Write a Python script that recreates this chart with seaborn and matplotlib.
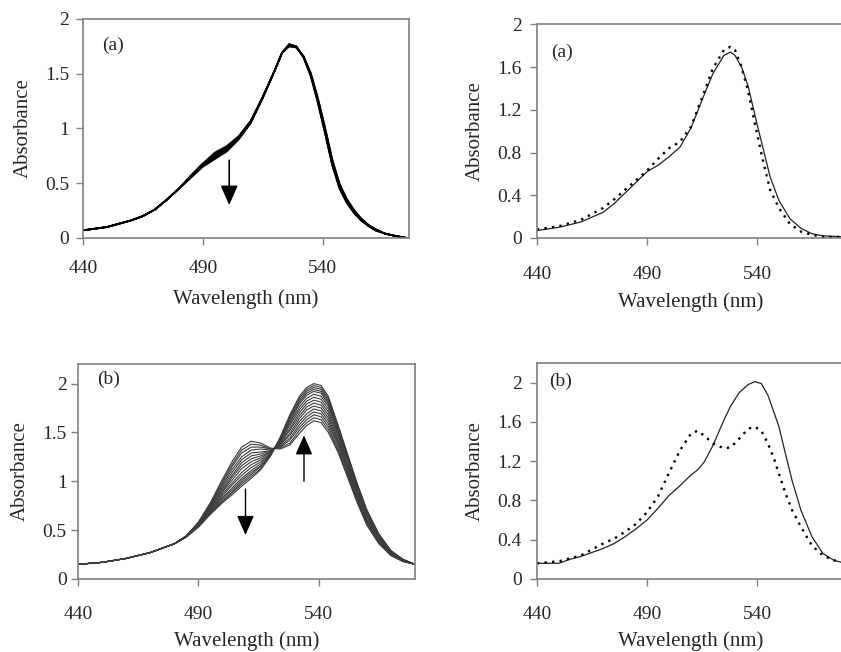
import numpy as np
import pandas as pd
import matplotlib
matplotlib.use('Agg')
import matplotlib.pyplot as plt
import seaborn as sns

# --- panel (a), left: family of spectra ---
wl_a = [440, 450, 460, 465, 470, 475, 480, 485, 490, 495, 500, 505, 510, 515, 520, 523,
        526, 529, 532, 535, 538, 541, 544, 547, 550, 553, 556, 559, 562, 566, 570, 575]
a_curves = [
    [.07, .10, .16, .20, .26, .35, .45, .57, .68, .78, .84, .93, 1.07, 1.29, 1.53, 1.69,
     1.77, 1.75, 1.65, 1.48, 1.23, .95, .66, .45, .32, .23, .16, .11, .07, .04, .02, .00],
    [.07, .10, .16, .20, .26, .35, .45, .57, .68, .77, .83, .93, 1.07, 1.29, 1.53, 1.69,
     1.77, 1.75, 1.65, 1.48, 1.24, .96, .67, .46, .33, .23, .16, .11, .07, .04, .02, .00],
    [.07, .10, .16, .20, .26, .35, .45, .56, .67, .76, .82, .92, 1.06, 1.29, 1.53, 1.69,
     1.76, 1.75, 1.65, 1.49, 1.25, .97, .68, .47, .33, .24, .17, .11, .07, .04, .02, .00],
    [.07, .10, .16, .20, .26, .35, .45, .56, .67, .75, .81, .92, 1.06, 1.28, 1.53, 1.69,
     1.76, 1.74, 1.65, 1.49, 1.26, .98, .69, .48, .34, .24, .17, .12, .07, .04, .02, .00],
    [.07, .10, .16, .20, .26, .35, .45, .56, .66, .74, .81, .91, 1.06, 1.28, 1.53, 1.69,
     1.76, 1.74, 1.66, 1.50, 1.26, .99, .70, .48, .35, .25, .17, .12, .08, .04, .02, .00],
    [.07, .10, .16, .20, .26, .35, .45, .55, .66, .73, .80, .91, 1.05, 1.28, 1.53, 1.69,
     1.75, 1.74, 1.66, 1.50, 1.27, 1.00, .71, .49, .35, .25, .18, .12, .08, .04, .02, .00],
    [.07, .10, .16, .20, .26, .35, .45, .55, .65, .72, .79, .90, 1.05, 1.28, 1.53, 1.69,
     1.75, 1.74, 1.66, 1.51, 1.28, 1.01, .72, .50, .36, .26, .18, .12, .08, .04, .02, .00],
]

# --- panel (a), right: solid vs dotted ---
wl_ra = [440, 450, 460, 470, 475, 480, 485, 490, 495, 500, 505, 510, 515, 520, 525, 528,
         530, 533, 536, 540, 543, 546, 550, 555, 560, 565, 570, 580]
ra_solid = [.07, .10, .15, .24, .32, .42, .52, .62, .68, .76, .85, 1.03, 1.29, 1.54, 1.71, 1.74,
            1.71, 1.60, 1.42, 1.07, .82, .57, .35, .18, .09, .04, .02, .01]
ra_dotted = [.08, .11, .17, .28, .36, .45, .54, .63, .74, .84, .90, 1.04, 1.31, 1.59, 1.76, 1.79,
             1.76, 1.60, 1.37, .98, .70, .45, .28, .13, .06, .03, .01, .01]

# --- panel (b), left: family of spectra ---
wl_b = [440, 450, 460, 470, 480, 485, 490, 495, 500, 504, 508, 512, 516, 520, 524, 528,
        532, 535, 538, 541, 544, 548, 552, 556, 560, 565, 570, 575, 580]
b_curves = [
    [.15, .17, .21, .27, .36, .44, .58, .78, 1.02, 1.20, 1.35, 1.41, 1.39, 1.34, 1.33, 1.37,
     1.49, 1.57, 1.62, 1.60, 1.50, 1.30, 1.04, .78, .55, .36, .24, .18, .15],
    [.15, .17, .21, .27, .36, .44, .58, .77, 1.00, 1.17, 1.32, 1.38, 1.37, 1.33, 1.34, 1.39,
     1.52, 1.60, 1.65, 1.63, 1.53, 1.32, 1.06, .80, .56, .37, .24, .18, .15],
    [.15, .17, .21, .27, .36, .44, .57, .76, .98, 1.15, 1.29, 1.35, 1.35, 1.33, 1.35, 1.42,
     1.55, 1.63, 1.68, 1.66, 1.56, 1.34, 1.08, .81, .58, .38, .25, .18, .15],
    [.15, .17, .21, .27, .36, .44, .57, .75, .96, 1.12, 1.25, 1.32, 1.33, 1.32, 1.36, 1.44,
     1.58, 1.66, 1.71, 1.69, 1.59, 1.37, 1.10, .83, .59, .38, .25, .18, .15],
    [.15, .17, .21, .27, .36, .44, .56, .74, .94, 1.09, 1.22, 1.29, 1.30, 1.31, 1.37, 1.47,
     1.61, 1.69, 1.74, 1.72, 1.62, 1.39, 1.12, .84, .60, .39, .26, .19, .15],
    [.15, .17, .21, .27, .36, .44, .56, .73, .92, 1.06, 1.19, 1.26, 1.28, 1.31, 1.38, 1.49,
     1.64, 1.73, 1.77, 1.75, 1.65, 1.41, 1.14, .86, .61, .40, .26, .19, .15],
    [.15, .17, .21, .27, .36, .44, .56, .72, .90, 1.04, 1.16, 1.23, 1.26, 1.30, 1.39, 1.52,
     1.67, 1.76, 1.80, 1.78, 1.68, 1.43, 1.16, .88, .63, .41, .26, .19, .15],
    [.15, .17, .21, .27, .36, .43, .55, .71, .89, 1.01, 1.13, 1.20, 1.24, 1.30, 1.40, 1.54,
     1.70, 1.79, 1.83, 1.81, 1.71, 1.46, 1.17, .89, .64, .42, .27, .19, .15],
    [.15, .17, .21, .27, .36, .43, .55, .70, .87, .98, 1.09, 1.17, 1.22, 1.29, 1.41, 1.57,
     1.73, 1.82, 1.86, 1.84, 1.74, 1.48, 1.19, .91, .65, .42, .27, .19, .15],
    [.15, .17, .21, .27, .36, .43, .54, .69, .85, .96, 1.06, 1.14, 1.20, 1.28, 1.42, 1.59,
     1.76, 1.85, 1.89, 1.87, 1.77, 1.50, 1.21, .92, .67, .43, .28, .19, .15],
    [.15, .17, .21, .27, .36, .43, .54, .69, .83, .93, 1.03, 1.11, 1.18, 1.28, 1.42, 1.61,
     1.79, 1.88, 1.92, 1.90, 1.79, 1.52, 1.23, .94, .68, .44, .28, .20, .15],
    [.15, .17, .21, .27, .36, .43, .54, .68, .82, .91, 1.01, 1.09, 1.16, 1.27, 1.43, 1.63,
     1.81, 1.90, 1.94, 1.92, 1.81, 1.54, 1.24, .95, .69, .45, .28, .20, .15],
    [.15, .17, .21, .27, .36, .43, .54, .67, .80, .89, .99, 1.07, 1.15, 1.27, 1.44, 1.65,
     1.83, 1.92, 1.96, 1.94, 1.83, 1.55, 1.26, .96, .69, .45, .29, .20, .15],
    [.15, .17, .21, .27, .36, .43, .53, .67, .79, .88, .97, 1.05, 1.13, 1.26, 1.44, 1.66,
     1.85, 1.94, 1.98, 1.96, 1.85, 1.57, 1.27, .97, .70, .46, .29, .20, .15],
    [.15, .17, .21, .27, .36, .43, .53, .66, .78, .86, .95, 1.03, 1.12, 1.26, 1.45, 1.68,
     1.87, 1.96, 2.00, 1.98, 1.87, 1.58, 1.28, .98, .71, .46, .29, .20, .15],
]

# --- panel (b), right: solid vs dotted ---
wl_rb = [440, 450, 455, 460, 470, 475, 480, 485, 490, 495, 500, 505, 510, 513, 516, 520,
         525, 528, 532, 536, 539, 542, 545, 548, 550, 553, 556, 560, 565, 570, 575, 580]
rb_solid = [.16, .16, .20, .23, .31, .36, .43, .51, .60, .72, .85, .95, 1.06, 1.11, 1.19, 1.36,
            1.62, 1.76, 1.90, 1.98, 2.01, 1.99, 1.87, 1.68, 1.55, 1.27, 1.00, .70, .43, .26, .19, .16]
rb_dotted = [.16, .18, .21, .24, .36, .41, .48, .56, .68, .84, 1.08, 1.31, 1.48, 1.51, 1.46, 1.38,
             1.33, 1.34, 1.43, 1.53, 1.55, 1.51, 1.38, 1.21, 1.07, .87, .70, .53, .34, .24, .19, .17]

panel_labels = ['(a)', '(a)', '(b)', '(b)']


def curves_frame(wl, curves):
    rows = []
    for k, c in enumerate(curves):
        for w, v in zip(wl, c):
            rows.append((k, w, v))
    return pd.DataFrame(rows, columns=['curve', 'wl', 'A'])


def style_axis(ax, xlim, ylim, yticks, xpad, ypad, xlpad=9):
    ax.set_xlim(*xlim)
    ax.set_ylim(*ylim)
    ax.set_xticks([440, 490, 540])
    ax.set_yticks(yticks)
    ax.yaxis.set_major_formatter(matplotlib.ticker.FormatStrFormatter('%g'))
    for s in ax.spines.values():
        s.set_color('#808080')
        s.set_linewidth(1.2)
        s.set_visible(True)
    ax.tick_params(axis='both', direction='out', length=5, width=1, color='#808080',
                   labelsize=14, left=True, bottom=True)
    ax.tick_params(axis='x', pad=xpad)
    ax.tick_params(axis='y', pad=ypad)
    ax.set_xlabel('Wavelength (nm)', fontsize=15, labelpad=xlpad)
    ax.set_ylabel('Absorbance', fontsize=15, labelpad=9)


def dotted(line):
    line.set_dashes((1, 2.2))
    line.set_dash_capstyle('butt')


sns.set_theme(style='white')
plt.rcParams['font.family'] = ['Liberation Serif', 'DejaVu Serif']

fig = plt.figure(figsize=(8.41, 6.52), dpi=100)
ax1 = fig.add_axes([0.0987, 0.6350, 0.3876, 0.3359])
ax2 = fig.add_axes([0.6385, 0.6350, 0.3662, 0.3277])
ax3 = fig.add_axes([0.0927, 0.1120, 0.4007, 0.3297])
ax4 = fig.add_axes([0.6385, 0.1120, 0.3662, 0.3313])

head = '-|>,head_length=0.8,head_width=0.35'

# top left
sns.lineplot(data=curves_frame(wl_a, a_curves), x='wl', y='A', units='curve', estimator=None,
             color='black', lw=1.2, ax=ax1, legend=False)
style_axis(ax1, (440, 576), (0, 2), [0, 0.5, 1, 1.5, 2], 11, 5)
ax1.annotate('', xy=(501, 0.30), xytext=(501, 0.71),
             arrowprops=dict(arrowstyle=head, color='black', lw=1.2, mutation_scale=15,
                             shrinkA=0, shrinkB=0))

# top right
sns.lineplot(x=wl_ra, y=ra_solid, color='#222222', lw=0.9, ax=ax2)
sns.lineplot(x=wl_ra, y=ra_dotted, color='black', lw=1.7, ax=ax2)
dotted(ax2.lines[-1])
style_axis(ax2, (440, 580), (0, 2), [0, 0.4, 0.8, 1.2, 1.6, 2], 15.5, 6, xlpad=6)

# bottom left
sns.lineplot(data=curves_frame(wl_b, b_curves), x='wl', y='A', units='curve', estimator=None,
             color='#3c3c3c', lw=0.8, ax=ax3, legend=False)
style_axis(ax3, (440, 580), (0, 2.2), [0, 0.5, 1, 1.5, 2], 14.5, 3, xlpad=6)
ax3.annotate('', xy=(509.6, 0.45), xytext=(509.6, 0.92),
             arrowprops=dict(arrowstyle=head, color='black', lw=1.0, mutation_scale=15,
                             shrinkA=0, shrinkB=0))
ax3.annotate('', xy=(533.9, 1.47), xytext=(533.9, 1.0),
             arrowprops=dict(arrowstyle=head, color='black', lw=1.0, mutation_scale=15,
                             shrinkA=0, shrinkB=0))

# bottom right
sns.lineplot(x=wl_rb, y=rb_solid, color='#222222', lw=0.9, ax=ax4)
sns.lineplot(x=wl_rb, y=rb_dotted, color='black', lw=1.7, ax=ax4)
dotted(ax4.lines[-1])
style_axis(ax4, (440, 580), (0, 2.2), [0, 0.4, 0.8, 1.2, 1.6, 2], 14.5, 6, xlpad=6)

label_pos = [(448, 1.76), (446.5, 1.74), (448, 2.04), (445.5, 2.01)]
for ax, lab, (lx, ly) in zip([ax1, ax2, ax3, ax4], panel_labels, label_pos):
    ax.text(lx, ly, lab, fontsize=14, ha='left', va='center')

fig.savefig('out.png', dpi=100)
